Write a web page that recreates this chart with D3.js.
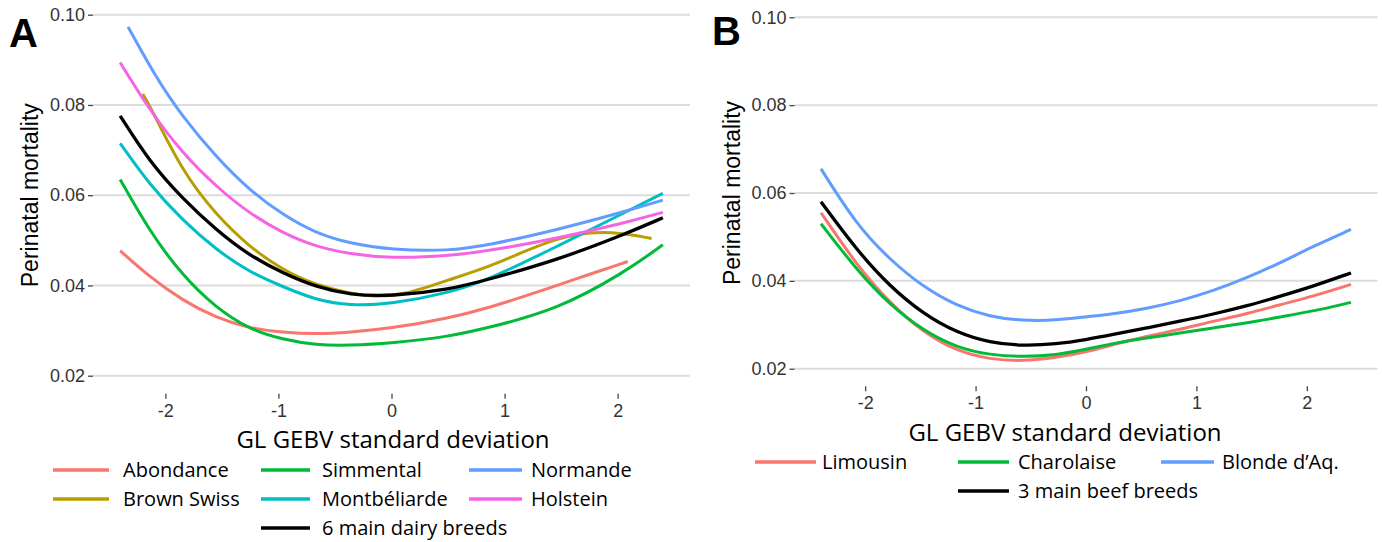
<!DOCTYPE html>
<head>
  <meta charset="utf-8">
  <title>Perinatal mortality by GL GEBV</title>
  <script src="https://cdn.jsdelivr.net/npm/d3@7"></script>
  <style>
    body { margin: 0; background: #fff; }
    text { font-family: "Liberation Sans", Arial, sans-serif; }
  </style>
</head>

<body>

  <script type="text/javascript">
    var WIDTH = 1382;
    var HEIGHT = 542;

    //===========data
    var xTicks = [-2, -1, 0, 1, 2];
    var yTicks = [0.02, 0.04, 0.06, 0.08, 0.10];

    // panel A : dairy breeds
    var dairyNames  = ["Abondance", "Brown Swiss", "Simmental", "Montbéliarde", "Normande", "Holstein"];
    var dairyColors = ["#F8766D", "#B79F00", "#00BA38", "#00BFC4", "#619CFF", "#F564E3"];
    var gridA = [-2.4, -2.14, -1.85, -1.55, -1.26, -0.96, -0.67, -0.37, 0, 0.5, 0.87, 1.46, 2.05, 2.4];

    var abondanceX = [-2.4, -2.14, -1.85, -1.55, -1.26, -0.96, -0.67, -0.37, 0, 0.5, 0.87, 1.3, 1.6, 2.09];
    var abondanceY = [0.0477, 0.0419, 0.0367, 0.0328, 0.0305, 0.0296, 0.0292, 0.0296, 0.0305, 0.0327, 0.0351, 0.0386, 0.0412, 0.0453];
    var brownSwissX = [-2.2, -2.14, -1.85, -1.55, -1.26, -0.96, -0.67, -0.37, -0.17, 0.1, 0.5, 0.87, 1.16, 1.46, 1.75, 2.05, 2.3];
    var brownSwissY = [0.0824, 0.0800, 0.0652, 0.0556, 0.0486, 0.0434, 0.0401, 0.0383, 0.0375, 0.0378, 0.0412, 0.0442, 0.0474, 0.0504, 0.0519, 0.0516, 0.0504];
    var simmentalY = [0.0635, 0.0520, 0.0422, 0.0350, 0.0303, 0.0280, 0.0268, 0.0267, 0.0272, 0.0286, 0.0307, 0.0346, 0.0427, 0.0490];
    var montbeliardeY = [0.0715, 0.0623, 0.0545, 0.0479, 0.0430, 0.0397, 0.0368, 0.0355, 0.0359, 0.0383, 0.0414, 0.0486, 0.0560, 0.0604];
    var normandeX = [-2.33, -2.1, -1.85, -1.55, -1.26, -0.96, -0.67, -0.37, 0, 0.5, 0.87, 1.46, 2.05, 2.4];
    var normandeY = [0.0973, 0.0868, 0.0774, 0.0685, 0.0612, 0.0556, 0.0516, 0.0493, 0.0479, 0.0476, 0.0490, 0.0523, 0.0563, 0.0589];
    var holsteinY = [0.0894, 0.0789, 0.0693, 0.0619, 0.0560, 0.0516, 0.0486, 0.0470, 0.0460, 0.0465, 0.0477, 0.0504, 0.0538, 0.0562];
    var dairyMainY = [0.0776, 0.0674, 0.0593, 0.0523, 0.0467, 0.0427, 0.0397, 0.0379, 0.0376, 0.0390, 0.0414, 0.0456, 0.0512, 0.0550];

    // panel B : beef breeds
    var beefNames  = ["Limousin", "Charolaise", "Blonde d’Aq."];
    var beefColors = ["#F8766D", "#00BA38", "#619CFF"];
    var gridB = [-2.4, -2.08, -1.78, -1.47, -1.17, -0.87, -0.57, -0.27, 0, 0.25, 0.55, 0.85, 1.15, 1.46, 1.76, 2.06, 2.4];
    var limousinY   = [0.0555, 0.0437, 0.0350, 0.0282, 0.0240, 0.0221, 0.0217, 0.0225, 0.0238, 0.0255, 0.0274, 0.0289, 0.0308, 0.0325, 0.0346, 0.0365, 0.0392];
    var charolaiseY = [0.0530, 0.0426, 0.0346, 0.0286, 0.0248, 0.0231, 0.0227, 0.0231, 0.0244, 0.0258, 0.0270, 0.0281, 0.0293, 0.0304, 0.0318, 0.0331, 0.0351];
    var blondeY     = [0.0655, 0.0528, 0.0449, 0.0385, 0.0343, 0.0318, 0.0309, 0.0310, 0.0318, 0.0325, 0.0337, 0.0354, 0.0377, 0.0407, 0.0441, 0.0479, 0.0517];
    var beefMainY   = [0.0580, 0.0471, 0.0388, 0.0324, 0.0282, 0.0259, 0.0252, 0.0256, 0.0266, 0.0278, 0.0293, 0.0308, 0.0324, 0.0343, 0.0365, 0.0388, 0.0418];

    //===========build series
    function zip(xs, ys){
      return ys.map(function(v, i){ return [xs[i], v]; });
    }

    var dairySeries = [
      zip(abondanceX, abondanceY),
      zip(brownSwissX, brownSwissY),
      zip(gridA, simmentalY),
      zip(gridA, montbeliardeY),
      zip(normandeX, normandeY),
      zip(gridA, holsteinY)
    ].map(function(pts, i){ return {name: dairyNames[i], color: dairyColors[i], points: pts}; });
    dairySeries.push({name: "6 main dairy breeds", color: "#000", points: zip(gridA, dairyMainY)});

    var beefSeries = [limousinY, charolaiseY, blondeY].map(function(ys, i){
      return {name: beefNames[i], color: beefColors[i], points: zip(gridB, ys)};
    });
    beefSeries.push({name: "3 main beef breeds", color: "#000", points: zip(gridB, beefMainY)});

    //===========layout
    var panels = [
      {
        letter: "A", letterX: 9, letterY: 47,
        left: 93, right: 690, y10: 14.7, y02: 375.7,
        yTitleX: 38, titleX: 393, titleY: 448,
        series: dairySeries,
        legendCols: [{x1: 53, x2: 109, tx: 123}, {x1: 261, x2: 310, tx: 322}, {x1: 469, x2: 522, tx: 531}],
        legendRows: [470, 499, 528],
        // [series index, column, row]
        legendSlots: [[0, 0, 0], [1, 0, 1], [2, 1, 0], [3, 1, 1], [4, 2, 0], [5, 2, 1], [6, 1, 2]]
      },
      {
        letter: "B", letterX: 712, letterY: 45,
        left: 794.5, right: 1377.5, y10: 17.3, y02: 368.7,
        yTitleX: 740, titleX: 1065, titleY: 441,
        series: beefSeries,
        legendCols: [{x1: 755, x2: 816, tx: 822}, {x1: 958, x2: 1009, tx: 1018}, {x1: 1161, x2: 1214, tx: 1222}],
        legendRows: [462, 491],
        legendSlots: [[0, 0, 0], [1, 1, 0], [2, 2, 0], [3, 1, 1]]
      }
    ];

    var svg = d3.select("body").append("svg")
                .attr("width", WIDTH)
                .attr("height", HEIGHT);

    panels.forEach(drawPanel);

    function drawPanel(p){
      var x = d3.scaleLinear().domain([-2.64, 2.64]).range([p.left, p.right]);
      var y = d3.scaleLinear().domain([0.02, 0.10]).range([p.y02, p.y10]);
      var bottom = y(0.016);
      var g = svg.append("g");

      // horizontal grid
      g.selectAll("line.grid")
        .data(yTicks)
        .enter().append("line")
        .attr("class", "grid")
        .attr("x1", p.left).attr("x2", p.right)
        .attr("y1", y).attr("y2", y)
        .attr("stroke", "#dcdcdc")
        .attr("stroke-width", 2);

      // axes
      var yAxis = d3.axisLeft(y).tickValues(yTicks).tickFormat(d3.format(".2f"))
                    .tickSize(5).tickPadding(3);
      var xAxis = d3.axisBottom(x).tickValues(xTicks).tickFormat(function(d){ return String(d); })
                    .tickSize(5).tickPadding(5);

      var ya = g.append("g").attr("transform", "translate(" + p.left + ",0)").call(yAxis);
      var xa = g.append("g").attr("transform", "translate(0," + bottom + ")").call(xAxis);
      [ya, xa].forEach(function(a){
        a.select(".domain").remove();
        a.selectAll(".tick line").attr("stroke", "#444").attr("stroke-width", 1.3);
        a.selectAll(".tick text")
          .attr("fill", "#333")
          .style("font-size", "18px")
          .style("font-family", "'Liberation Sans', Arial, sans-serif");
      });

      // curves (smoothed through the read-off points)
      var line = d3.line()
                   .x(function(d){ return x(d[0]); })
                   .y(function(d){ return y(d[1]); })
                   .curve(d3.curveBasis);

      g.selectAll("path.curve")
        .data(p.series)
        .enter().append("path")
        .attr("class", "curve")
        .attr("d", function(s){ return line(s.points); })
        .attr("fill", "none")
        .attr("stroke", function(s){ return s.color; })
        .attr("stroke-width", function(s){ return s.color === "#000" ? 3.3 : 3; })
        .attr("stroke-linecap", "butt");

      // titles
      g.append("text")
        .attr("x", p.letterX).attr("y", p.letterY)
        .style("font-size", "40px").style("font-weight", "bold")
        .text(p.letter);

      g.append("text")
        .attr("transform", "translate(" + p.yTitleX + "," + ((p.y10 + p.y02) / 2) + ") rotate(-90)")
        .attr("text-anchor", "middle")
        .style("font-size", "23px")
        .text("Perinatal mortality");

      g.append("text")
        .attr("x", p.titleX).attr("y", p.titleY)
        .attr("text-anchor", "middle")
        .style("font-family", "'Open Sans', sans-serif")
        .style("font-size", "24px")
        .text("GL GEBV standard deviation");

      // legend
      var items = g.selectAll("g.legend")
        .data(p.legendSlots)
        .enter().append("g")
        .attr("class", "legend");

      items.append("line")
        .attr("x1", function(s){ return p.legendCols[s[1]].x1; })
        .attr("x2", function(s){ return p.legendCols[s[1]].x2; })
        .attr("y1", function(s){ return p.legendRows[s[2]]; })
        .attr("y2", function(s){ return p.legendRows[s[2]]; })
        .attr("stroke", function(s){ return p.series[s[0]].color; })
        .attr("stroke-width", 3.3);

      items.append("text")
        .attr("x", function(s){ return p.legendCols[s[1]].tx; })
        .attr("y", function(s){ return p.legendRows[s[2]] + 7; })
        .style("font-family", "'Open Sans', sans-serif")
        .style("font-size", "20px")
        .text(function(s){ return p.series[s[0]].name; });
    }

  </script>
</body>
